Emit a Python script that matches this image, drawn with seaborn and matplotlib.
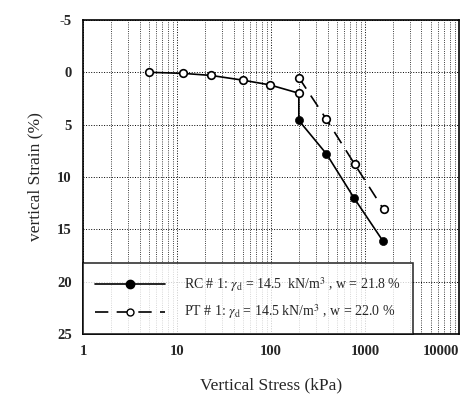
#!/usr/bin/env python3
import matplotlib
matplotlib.use("Agg")
import matplotlib.pyplot as plt
from matplotlib.lines import Line2D
import pandas as pd
import seaborn as sns

# RC #1 test: stress (kPa) and vertical strain (%)
rc_stress = [5, 11.5, 23, 50, 97, 198, 198, 390, 765, 1550]
rc_strain = [0.0, 0.1, 0.3, 0.75, 1.2, 2.0, 4.6, 7.8, 12.0, 16.1]
rc_filled = [False, False, False, False, False, False, True, True, True, True]

# PT #1 test
pt_stress = [198, 390, 780, 1580]
pt_strain = [0.5, 4.5, 8.8, 13.1]

rc_label = r"RC # 1: $\gamma_{\rm d}$ = 14.5  kN/m$^3$ , w = 21.8 %"
pt_label = r"PT # 1: $\gamma_{\rm d}$ = 14.5 kN/m$^3$ , w = 22.0 %"

sns.set_theme(style="ticks")
plt.rcParams.update({
    "font.family": ["Liberation Serif", "DejaVu Serif"],
    "mathtext.fontset": "stix",
    "axes.unicode_minus": False,
    "axes.edgecolor": "black",
    "axes.linewidth": 1.2,
})

rc = pd.DataFrame({"stress": rc_stress, "strain": rc_strain, "filled": rc_filled})
pt = pd.DataFrame({"stress": pt_stress, "strain": pt_strain})

fig = plt.figure(figsize=(4.77, 3.99), dpi=100)
ax = fig.add_axes([0.174, 0.163, 0.788, 0.787])
ax.set_xscale("log")

sns.lineplot(data=rc, x="stress", y="strain", color="black", linewidth=1.2,
             sort=False, estimator=None, ax=ax, zorder=3)
sns.lineplot(data=pt, x="stress", y="strain", color="black", linewidth=1.2,
             dashes=False, sort=False, estimator=None, ax=ax, zorder=3,
             linestyle=(0, (8, 5)))
sns.scatterplot(data=rc[~rc["filled"]], x="stress", y="strain", color="white",
                edgecolor="black", linewidth=1.2, s=30, ax=ax, zorder=4)
sns.scatterplot(data=rc[rc["filled"]], x="stress", y="strain", color="black",
                edgecolor="black", s=34, ax=ax, zorder=4)
sns.scatterplot(data=pt, x="stress", y="strain", color="white",
                edgecolor="black", linewidth=1.2, s=30, ax=ax, zorder=4)

ax.set_xlim(1, 10000)
ax.set_ylim(25, -5)
ax.set_yticks([-5, 0, 5, 10, 15, 20, 25])
ax.set_xticks([1, 10, 100, 1000, 10000])
ax.set_xticklabels(["1", "10", "100", "1000", "10000"])
ax.grid(which="major", axis="both", color="black", linestyle=":", linewidth=0.7)
ax.grid(which="minor", axis="x", color="black", linestyle=":", linewidth=0.6)
ax.tick_params(which="both", length=0, labelsize=10.5, pad=8)
for lab in ax.get_xticklabels() + ax.get_yticklabels():
    lab.set_fontweight("bold")
ax.get_xticklabels()[-1].set_horizontalalignment("right")
ax.get_xticklabels()[-1].set_x(10000)

ax.set_xlabel("Vertical Stress (kPa)", fontsize=12.5, labelpad=14)
ax.set_ylabel("vertical Strain (%)", fontsize=12.5, labelpad=10)

handles = [
    Line2D([0], [0], color="black", lw=1.2, marker="o", markersize=6,
           markerfacecolor="black"),
    Line2D([0], [0], color="black", lw=1.2, linestyle=(0, (8, 5)), marker="o",
           markersize=5, markerfacecolor="white"),
]
leg = ax.legend(handles, [rc_label, pt_label], loc="lower left",
                bbox_to_anchor=(0, 0, 0.877, 0.22), mode="expand",
                handlelength=5.0, handletextpad=1.4, fontsize=10,
                frameon=True, fancybox=False, borderaxespad=0,
                borderpad=0.9, labelspacing=0.6)
leg.get_frame().set_edgecolor("black")
leg.get_frame().set_linewidth(1.2)
leg.set_zorder(5)

fig.savefig("out.png", dpi=100)
